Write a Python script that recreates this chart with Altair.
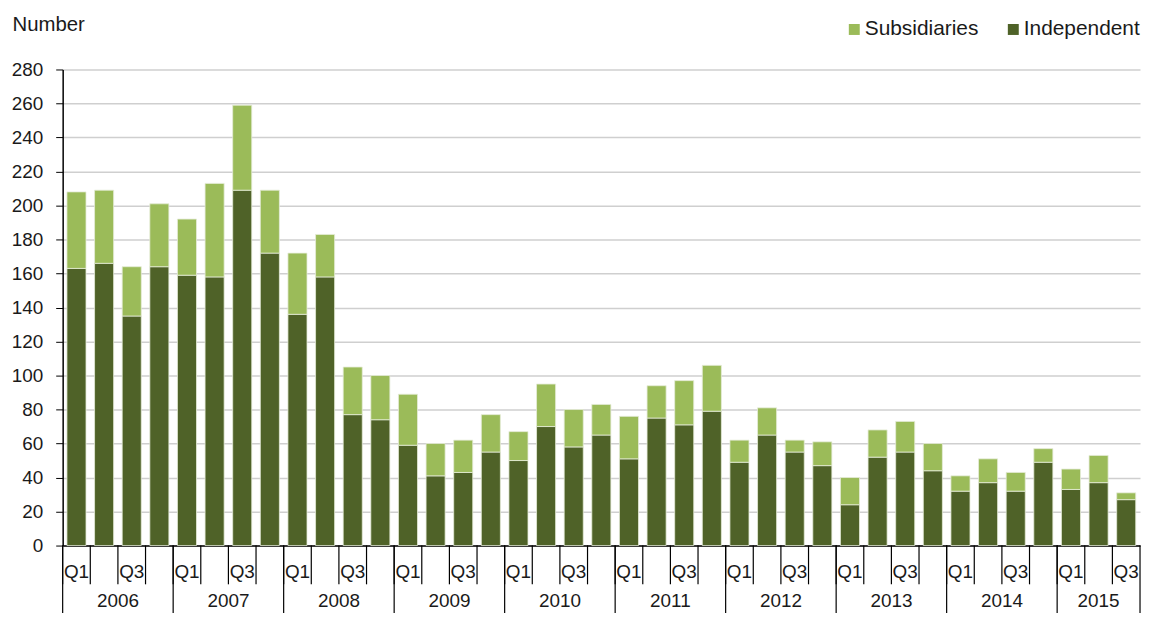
import altair as alt
import pandas as pd

years = ["2006", "2007", "2008", "2009", "2010", "2011", "2012", "2013", "2014", "2015"]
quarters = ["Q1", "Q2", "Q3", "Q4"]
periods = [f"{y} {q}" for y in years for q in quarters][:39]

independent = [163, 166, 135, 164, 159, 158, 209, 172, 136, 158,
               77, 74, 59, 41, 43, 55, 50, 70, 58, 65,
               51, 75, 71, 79, 49, 65, 55, 47, 24, 52,
               55, 44, 32, 37, 32, 49, 33, 37, 27]
subsidiaries = [45, 43, 29, 37, 33, 55, 50, 37, 36, 25,
                28, 26, 30, 19, 19, 22, 17, 25, 22, 18,
                25, 19, 26, 27, 13, 16, 7, 14, 16, 16,
                18, 16, 9, 14, 11, 8, 12, 16, 4]

series_names = ["Subsidiaries", "Independent"]
series_colors = ["#9BBB59", "#4F6228"]

rows = []
for p, ind, sub in zip(periods, independent, subsidiaries):
    rows.append({"period": p, "series": "Independent", "value": ind, "ord": 0})
    rows.append({"period": p, "series": "Subsidiaries", "value": sub, "ord": 1})
df = pd.DataFrame(rows)

all_periods = pd.DataFrame({"period": periods})
year_starts = pd.DataFrame({"period": [f"{y} Q1" for y in years]})
year_end = pd.DataFrame({"period": [periods[-1]]})
full_years = pd.DataFrame({"year": years[:-1], "period": [f"{y} Q2" for y in years[:-1]]})
last_year = pd.DataFrame({"year": [years[-1]], "period": [f"{years[-1]} Q2"]})

W, H = 1084, 479
FONT = "Liberation Sans"
TXT = "#1a1a1a"

xscale = alt.Scale(domain=periods, paddingInner=0, paddingOuter=0)

bars = alt.Chart(df).mark_bar(
    width=alt.RelativeBandSize(0.69), stroke="#e6ecd9", strokeWidth=0.8
).encode(
    x=alt.X(
        "period:N", scale=xscale, title=None,
        axis=alt.Axis(
            title=None,
            labelExpr="(slice(datum.value, -2) == 'Q1' || slice(datum.value, -2) == 'Q3') ? slice(datum.value, -2) : ''",
            ticks=False, domain=True, domainColor="black", domainWidth=1.5,
            labelPadding=26, labelBaseline="middle", labelAlign="center", labelAngle=0,
            labelFontSize=19, labelFont=FONT, labelColor=TXT, grid=False, labelOverlap=False,
        ),
    ),
    y=alt.Y(
        "value:Q", stack="zero",
        scale=alt.Scale(domain=[0, 280], nice=False),
        axis=alt.Axis(
            values=list(range(0, 281, 20)),
            title="Number", titleAngle=0, titleX=-51, titleY=-39, titleAlign="left",
            titleBaseline="alphabetic", titleFontSize=20.5, titleFontWeight="normal",
            titleFont=FONT, titleColor=TXT,
            labelFontSize=19, labelFont=FONT, labelColor=TXT, labelPadding=13,
            tickSize=7, tickColor="black", domain=True, domainColor="black", domainWidth=1.5,
            gridColor="#cfcfcf", gridWidth=1.5,
        ),
    ),
    color=alt.Color(
        "series:N",
        scale=alt.Scale(domain=series_names, range=series_colors),
        legend=alt.Legend(
            orient="none", legendX=786, legendY=-51, direction="horizontal", title=None,
            symbolType="square", symbolSize=121, symbolStrokeWidth=0, symbolOpacity=1,
            labelFontSize=21, labelFont=FONT, labelColor=TXT, columnPadding=24,
            labelOffset=0, padding=0, labelLimit=300,
        ),
    ),
    order=alt.Order("ord:Q"),
)

tick_rules = alt.Chart(all_periods).mark_rule(color="black", strokeWidth=1.2).encode(
    x=alt.X("period:N", scale=xscale, bandPosition=0, title=None),
    y=alt.value(H), y2=alt.value(H + 39),
)
year_rules = alt.Chart(year_starts).mark_rule(color="black", strokeWidth=1.2).encode(
    x=alt.X("period:N", scale=xscale, bandPosition=0, title=None),
    y=alt.value(H), y2=alt.value(H + 70),
)
end_rule = alt.Chart(year_end).mark_rule(color="black", strokeWidth=1.2).encode(
    x=alt.X("period:N", scale=xscale, bandPosition=1, title=None),
    y=alt.value(H), y2=alt.value(H + 70),
)
year_text = alt.Chart(full_years).mark_text(
    fontSize=19, font=FONT, color=TXT, baseline="middle"
).encode(
    x=alt.X("period:N", scale=xscale, bandPosition=1, title=None),
    y=alt.value(H + 56), text="year:N",
)
last_text = alt.Chart(last_year).mark_text(
    fontSize=19, font=FONT, color=TXT, baseline="middle"
).encode(
    x=alt.X("period:N", scale=xscale, bandPosition=0.5, title=None),
    y=alt.value(H + 56), text="year:N",
)

chart = alt.layer(bars, tick_rules, year_rules, end_rule, year_text, last_text).properties(
    width=W, height=H,
    autosize=alt.AutoSizeParams(type="none"),
    padding={"left": 55, "top": 60, "right": 3, "bottom": 66},
).configure_view(stroke=None)

chart.save("out.html", embed_options={"renderer": "svg", "actions": False})
